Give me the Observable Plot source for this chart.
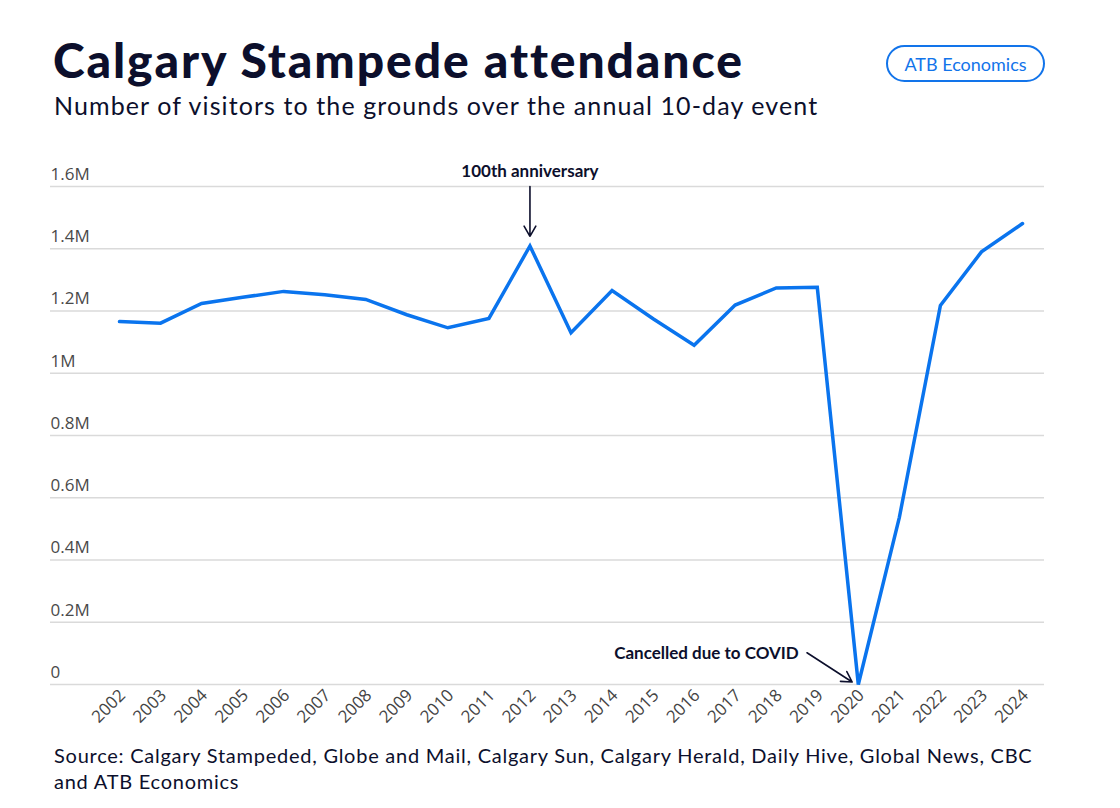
<!DOCTYPE html>
<html>
<head>
<meta charset="utf-8">
<script src="https://cdn.jsdelivr.net/npm/d3@7"></script>
<script src="https://cdn.jsdelivr.net/npm/@observablehq/plot@0.6"></script>
<style>
  html, body { margin: 0; padding: 0; background: #fff; }
  body { width: 1120px; height: 808px; position: relative; overflow: hidden; font-family: "Lato", "Open Sans", sans-serif; }
  #title { position: absolute; left: 53px; top: 31px; font-family: "Lato", sans-serif; font-weight: 900; font-size: 48px; color: #0c0f2c; letter-spacing: 1.9px; white-space: nowrap; }
  #subtitle { position: absolute; left: 54px; top: 90px; font-family: "Lato", sans-serif; font-size: 25px; color: #0c0f2c; letter-spacing: 1.1px; white-space: nowrap; }
  #badge { position: absolute; left: 886px; top: 45px; width: 155px; height: 33px; border: 2px solid #1274ea; border-radius: 19px; color: #1274ea; font-family: "Lato", sans-serif; font-size: 18px; display: flex; align-items: center; justify-content: center; box-sizing: content-box; }
  #chart { position: absolute; left: 0; top: 150px; }
  #source { position: absolute; left: 54px; top: 742px; width: 1060px; font-family: "Lato", sans-serif; font-size: 20px; line-height: 26px; color: #0c0f2c; letter-spacing: 0.75px; white-space: nowrap; }
</style>
</head>
<body>
<div id="title">Calgary Stampede attendance</div>
<div id="subtitle">Number of visitors to the grounds over the annual 10-day event</div>
<div id="badge">ATB Economics</div>
<div id="chart"></div>
<div id="source">Source: Calgary Stampeded, Globe and Mail, Calgary Sun, Calgary Herald, Daily Hive, Global News, CBC<br>and ATB Economics</div>
<script>
const years = [2002, 2003, 2004, 2005, 2006, 2007, 2008, 2009, 2010, 2011, 2012, 2013,
               2014, 2015, 2016, 2017, 2018, 2019, 2020, 2021, 2022, 2023, 2024];
const attendance = [1166000, 1161000, 1224000, 1244000, 1263000, 1252000, 1237000, 1188000,
                    1146000, 1176000, 1409000, 1130000, 1266000, 1175000, 1090000, 1219000,
                    1274000, 1276000, 0, 537000, 1218000, 1390000, 1481000];
const yTicks = [0, 200000, 400000, 600000, 800000, 1000000, 1200000, 1400000, 1600000];
const yTickLabels = ["0", "0.2M", "0.4M", "0.6M", "0.8M", "1M", "1.2M", "1.4M", "1.6M"];

const noteTexts = ["100th anniversary", "Cancelled due to COVID"];
const noteX = [2012, 2018.55];
const noteY = [1648000, 100000];
const arrowX1 = [2012, 2018.75];
const arrowY1 = [1600000, 102000];
const arrowX2 = [2012, 2019.85];
const arrowY2 = [1440000, 8000];

const data = years.map((y, i) => ({year: y, value: attendance[i]}));
const ticks = yTicks.map((v, i) => ({value: v, label: yTickLabels[i]}));
const notes = noteTexts.map((t, i) => ({text: t, x: noteX[i], y: noteY[i]}));
const arrows = arrowX1.map((x, i) => ({x1: x, y1: arrowY1[i], x2: arrowX2[i], y2: arrowY2[i]}));

const ink = "#0c0f2c";
const noteStyle = {x: "x", y: "y", text: "text", fill: ink, fontWeight: "bold", fontSize: 17, fontFamily: "Lato, sans-serif"};
const chart = Plot.plot({
  width: 1120,
  height: 590,
  marginLeft: 50,
  marginRight: 76,
  marginTop: 36,
  marginBottom: 56,
  style: {fontFamily: "'Open Sans', sans-serif", fontSize: "16px", color: "#444"},
  x: {domain: [2002, 2024], insetLeft: 69, insetRight: 22},
  y: {domain: [0, 1600000]},
  marks: [
    Plot.ruleY(ticks, {y: "value", stroke: "#dadada", strokeWidth: 1.3}),
    Plot.text(ticks, {y: "value", text: "label", frameAnchor: "left", textAnchor: "start", dy: -12, fill: "#4a4a4a", fontSize: 17}),
    Plot.axisX({ticks: years, tickFormat: d => String(d), tickRotate: -45, tickSize: 0, tickPadding: 8, dx: 3, fontSize: 17, fill: "#444", label: null}),
    Plot.axisY({ticks: [], label: null}),
    Plot.line(data, {x: "year", y: "value", stroke: "#0a74ee", strokeWidth: 3.5, strokeLinejoin: "miter", strokeMiterlimit: 3}),
    Plot.arrow(arrows, {x1: "x1", y1: "y1", x2: "x2", y2: "y2", stroke: ink, strokeWidth: 1.6, headLength: 11, bend: 0}),
    Plot.text(notes.slice(0, 1), {...noteStyle, textAnchor: "middle", letterSpacing: "0.7px"}),
    Plot.text(notes.slice(1), {...noteStyle, textAnchor: "end", letterSpacing: "0.7px"})
  ]
});
document.getElementById("chart").appendChild(chart);
</script>
</body>
</html>
